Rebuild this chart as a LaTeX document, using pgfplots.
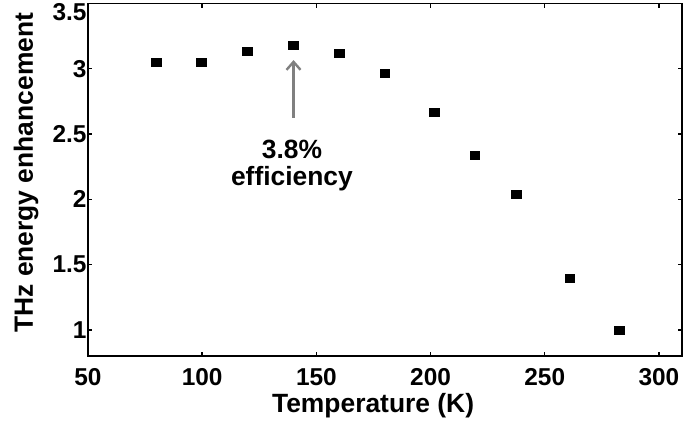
\documentclass[border=0pt]{standalone}
\usepackage{pgfplots}
\pgfplotsset{compat=1.18}
\usetikzlibrary{arrows.meta}
\usepackage{fontspec}
\setmainfont{Liberation Sans}
\begin{document}
\begin{tikzpicture}[x=1bp,y=1bp]
\begin{axis}[
  scale only axis,
  width=594bp, height=352.5bp,
  xmin=50, xmax=310.1, ymin=0.8, ymax=3.5,
  xtick={50,100,...,300},
  ytick={1,1.5,...,3},
  extra y ticks={3.5},
  extra y tick style={yticklabel style={yshift=-9bp}},
  tick align=inside,
  major tick length=4bp,
  axis line style={line width=1.8bp},
  tick style={line width=1.4bp, black},
  ticklabel style={font=\fontsize{24.5}{28}\selectfont\bfseries},
  /pgf/number format/assume math mode=true,
  yticklabel style={/pgf/number format/fixed, /pgf/number format/precision=1, xshift=2bp},
  xticklabel style={anchor=base, yshift=-29bp},
  xlabel={Temperature (K)},
  ylabel={THz energy enhancement},
  label style={font=\fontsize{26.5}{30}\selectfont\bfseries},
  xlabel style={at={(axis description cs:0.48,-0.1589)}, anchor=base},
  ylabel style={at={(axis description cs:-0.0926,0.52)}, anchor=base, rotate=0},
  clip=false,
]
\addplot[only marks, mark=square*, mark size=4bp, mark options={xscale=1.2}, black] coordinates {
  (79.8,3.052) (99.5,3.052) (119.6,3.136) (139.8,3.182) (159.9,3.121) (180.0,2.968)
  (201.5,2.669) (219.4,2.340) (237.4,2.041) (261.0,1.398) (282.5,1.000)
};
\draw[-{Straight Barb[length=8bp,width=14bp]}, gray, line width=2.4bp] (axis cs:140,2.623) -- (axis cs:140,3.067);
\node[font=\fontsize{26.5}{30}\selectfont\bfseries, anchor=base] at (axis cs:139.3,2.309) {3.8\%};
\node[font=\fontsize{26.5}{30}\selectfont\bfseries, anchor=base] at (axis cs:139.3,2.103) {efficiency};
\end{axis}
\pgfresetboundingbox
\path ([shift={(-88bp,-70bp)}]current axis.south west) rectangle ([shift={(11bp,3.5bp)}]current axis.north east);
\end{tikzpicture}
\end{document}
